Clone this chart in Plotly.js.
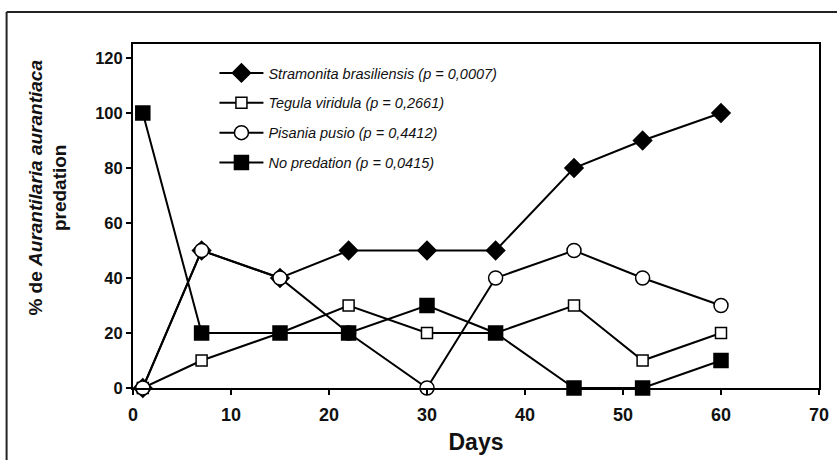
<!DOCTYPE html>
<html>
<head>
<meta charset="utf-8">
<script src="https://cdn.plot.ly/plotly-3.0.1.min.js"></script>
<style>html,body{margin:0;padding:0;background:#fff;}#chart{width:837px;height:460px;}</style>
</head>
<body>
<div id="chart"></div>
<script>
const days = [1, 7, 15, 22, 30, 37, 45, 52, 60];
const stramonita = [0, 50, 40, 50, 50, 50, 80, 90, 100];
const tegula = [0, 10, 20, 30, 20, 20, 30, 10, 20];
const pisania = [0, 50, 40, 20, 0, 40, 50, 40, 30];
const noPredation = [100, 20, 20, 20, 30, 20, 0, 0, 10];
const seriesNames = [
  'Stramonita brasiliensis (p = 0,0007)',
  'Tegula viridula (p = 0,2661)',
  'Pisania pusio (p = 0,4412)',
  'No predation (p = 0,0415)'
];
const xTicks = [0, 10, 20, 30, 40, 50, 60, 70];
const yTicks = [0, 20, 40, 60, 80, 100, 120];

const FONT = 'Liberation Sans, Arial, sans-serif';
const L = 132.5, R = 819, T = 44, B = 388, W = 837, H = 460;
const pw = R - L, ph = B - T;
const px2x = p => (p - L) / pw;
const py2y = p => (B - p) / ph;

function tr(y, name, symbol, fill, size, g) {
  return {
    x: days, y: y, name: '<i>' + name + '</i>', type: 'scatter', mode: 'lines+markers',
    legendgroup: g,
    line: {color: '#000', width: 2},
    marker: {symbol: symbol, size: size, color: fill, line: {color: '#000', width: 1.5}},
    cliponaxis: false
  };
}
const data = [
  tr(stramonita, seriesNames[0], 'diamond', '#000', 14, 'a'),
  tr(tegula, seriesNames[1], 'square', '#fff', 11, 'b'),
  tr(pisania, seriesNames[2], 'circle', '#fff', 14, 'c'),
  tr(noPredation, seriesNames[3], 'square', '#000', 14, 'd')
];

const layout = {
  width: W, height: H,
  margin: {l: L, r: W - R, t: T, b: H - B, pad: 0},
  paper_bgcolor: '#fff', plot_bgcolor: '#fff',
  font: {family: FONT, color: '#000'},
  showlegend: true,
  legend: {
    x: px2x(214), y: py2y(57), xanchor: 'left', yanchor: 'top',
    bgcolor: 'rgba(0,0,0,0)', borderwidth: 0,
    font: {family: FONT, size: 14.5, color: '#111'},
    traceorder: 'grouped', tracegroupgap: 8, itemwidth: 44
  },
  xaxis: {
    range: [0, 70], tickvals: xTicks, ticktext: xTicks.map(String),
    showgrid: false, zeroline: false, showline: true, linecolor: '#000', linewidth: 2,
    mirror: true, ticks: 'outside', ticklen: 5, tickwidth: 1.5, tickcolor: '#000',
    ticklabelstandoff: 4,
    tickfont: {family: FONT, size: 18, color: '#111', weight: 'bold'},
    title: {text: '<b>Days</b>', font: {family: FONT, size: 23, color: '#111'}, standoff: 10}
  },
  yaxis: {
    range: [0, 125.1], tickvals: yTicks, ticktext: yTicks.map(String),
    showgrid: false, zeroline: false, showline: true, linecolor: '#000', linewidth: 2,
    mirror: true, ticks: 'outside', ticklen: 5, tickwidth: 1.5, tickcolor: '#000',
    tickfont: {family: FONT, size: 16.5, color: '#111', weight: 'bold'}
  },
  annotations: [{
    xref: 'paper', yref: 'paper', x: px2x(47), y: py2y(188),
    xanchor: 'center', yanchor: 'middle', textangle: -90, showarrow: false,
    text: '<b>% de <i>Aurantilaria aurantiaca</i><br>predation</b>',
    font: {family: FONT, size: 19, color: '#111'}
  }],
  shapes: [
    {type: 'line', xref: 'paper', yref: 'paper', x0: px2x(6), x1: px2x(6), y0: py2y(12), y1: py2y(470), line: {color: '#222', width: 2}},
    {type: 'line', xref: 'paper', yref: 'paper', x0: px2x(6), x1: px2x(850), y0: py2y(12), y1: py2y(12), line: {color: '#222', width: 2}}
  ]
};
Plotly.newPlot('chart', data, layout, {displayModeBar: false, staticPlot: true});
</script>
</body>
</html>
